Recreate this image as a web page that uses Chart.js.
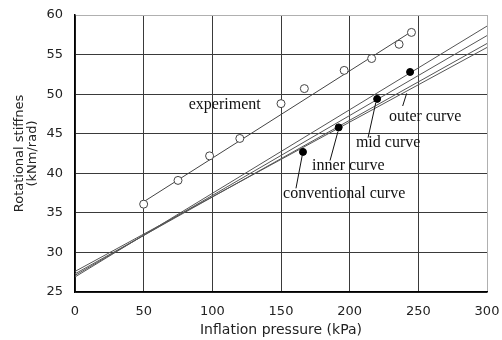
<!DOCTYPE html>
<html>
<head>
<meta charset="utf-8">
<script src="https://cdn.jsdelivr.net/npm/chart.js@4"></script>
<style>
  html,body{margin:0;padding:0;background:#fff}
  #wrap{width:502px;height:340px}
</style>
</head>
<body>
<div id="wrap"><canvas id="c"></canvas></div>
<script>
/* ── datos ── */
const expPressure = [50, 75, 98, 120, 150, 167, 196, 216, 236, 245];
const expStiff    = [36.1, 39.1, 42.2, 44.4, 48.8, 50.7, 53.0, 54.5, 56.3, 57.8];
const expFitX     = [50, 245];
const expFitY     = [36.4, 57.9];

const femPressure = [166, 192, 220, 244];
const femStiff    = [42.7, 45.8, 49.4, 52.8];

const curveX      = [0, 300];
const outerY      = [26.9, 58.6];
const midY        = [27.1, 57.4];
const innerY      = [27.3, 56.4];
const convY       = [27.6, 55.9];

const xTicks = [0, 50, 100, 150, 200, 250, 300];
const yTicks = [25, 30, 35, 40, 45, 50, 55, 60];

const pts = (xs, ys) => xs.map((x, i) => ({ x, y: ys[i] }));

/* etiquetas y líneas guía (en coordenadas de datos) */
const LABELS = [
  { text:'experiment',         x:109, y:48.6 },
  { text:'outer curve',        x:255, y:47.1 },
  { text:'mid curve',          x:228, y:43.8 },
  { text:'inner curve',        x:199, y:41.0 },
  { text:'conventional curve', x:196, y:37.4 }
];
const LEADERS = [
  [[238.6, 48.5], [241.5, 50.1]],
  [[213.4, 44.5], [219.0, 48.9]],
  [[185.7, 41.6], [191.5, 45.3]],
  [[160.9, 38.1], [165.5, 42.3]]
];

const annot = {
  id:'annot',
  afterDatasetsDraw(chart) {
    const { ctx, scales:{ x, y } } = chart;
    ctx.save();
    ctx.strokeStyle = '#111'; ctx.lineWidth = 1;
    LEADERS.forEach(([a, b]) => {
      ctx.beginPath();
      ctx.moveTo(x.getPixelForValue(a[0]), y.getPixelForValue(a[1]));
      ctx.lineTo(x.getPixelForValue(b[0]), y.getPixelForValue(b[1]));
      ctx.stroke();
    });
    ctx.fillStyle = '#111';
    ctx.font = '16px "Liberation Serif", serif';
    ctx.textAlign = 'center'; ctx.textBaseline = 'middle';
    LABELS.forEach(l => ctx.fillText(l.text, x.getPixelForValue(l.x), y.getPixelForValue(l.y)));
    ctx.restore();
  }
};

const lineDs = (xs, ys) => ({
  data: pts(xs, ys), showLine:true, borderColor:'#555', borderWidth:1,
  pointRadius:0, fill:false
});

const GRID = '#3a3a3a', EDGE = '#b0b0b0';
const TICK_FONT = { family:'"DejaVu Sans", sans-serif', size:13 };

new Chart(document.getElementById('c'), {
  type:'scatter',
  data:{ datasets:[
    { data:pts(femPressure, femStiff), pointRadius:3.5, pointBackgroundColor:'#000', pointBorderColor:'#000', pointBorderWidth:1 },
    { data:pts(expPressure, expStiff), pointRadius:4, pointBackgroundColor:'#fff', pointBorderColor:'#444', pointBorderWidth:1 },
    { ...lineDs(expFitX, expFitY), borderColor:'#444' },
    lineDs(curveX, outerY),
    lineDs(curveX, midY),
    lineDs(curveX, innerY),
    lineDs(curveX, convY)
  ]},
  options:{
    responsive:true, maintainAspectRatio:false, animation:false,
    layout:{ autoPadding:false, padding:{ top:15, right:15, bottom:0, left:0 } },
    plugins:{ legend:{ display:false }, tooltip:{ enabled:false } },
    scales:{
      x:{
        type:'linear', min:0, max:300,
        afterBuildTicks: s => { s.ticks = xTicks.map(v => ({ value:v })); },
        afterFit: s => { s.height = 48; s.paddingLeft = 0; s.paddingRight = 0; },
        grid:{ drawTicks:false, color:c => c.tick && c.tick.value === 300 ? EDGE : GRID, lineWidth:1 },
        border:{ color:'#000', width:1.5 },
        ticks:{ color:'#222', font:TICK_FONT, padding:12, maxRotation:0 },
        title:{ display:true, text:'Inflation pressure (kPa)', color:'#222',
                font:{ family:'"DejaVu Sans", sans-serif', size:14 }, padding:{ top:0, bottom:1 } }
      },
      y:{
        type:'linear', min:25, max:60,
        afterBuildTicks: s => { s.ticks = yTicks.map(v => ({ value:v })); },
        afterFit: s => { s.width = 75; s.paddingTop = 0; s.paddingBottom = 0; },
        grid:{ drawTicks:false, color:c => c.tick && c.tick.value === 60 ? EDGE : GRID, lineWidth:1 },
        border:{ color:'#000', width:1.5 },
        ticks:{ color:'#222', font:TICK_FONT, padding:12 },
        title:{ display:true, text:['Rotational stiffnes', '(kNm/rad)'], color:'#222',
                font:{ family:'"DejaVu Sans", sans-serif', size:13, lineHeight:1 }, padding:{ top:13.5, bottom:0 } }
      }
    }
  },
  plugins:[annot]
});
</script>
</body>
</html>
